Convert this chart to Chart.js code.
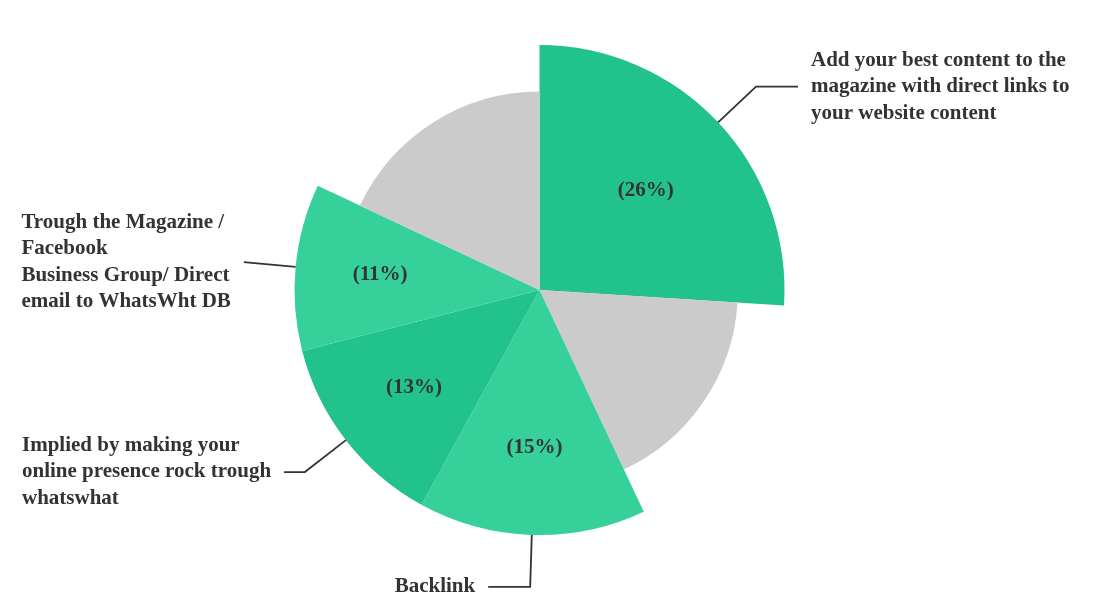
<!DOCTYPE html>
<html>
<head>
<meta charset="utf-8">
<title>Traffic sources</title>
<script src="https://cdn.jsdelivr.net/npm/chart.js@4.4.1/dist/chart.umd.min.js"></script>
<style>
  html, body { margin: 0; padding: 0; background: #fff; }
  #wrap { width: 1102px; height: 614px; }
</style>
</head>
<body>
<div id="wrap"><canvas id="pieChart" width="1102" height="614"></canvas></div>
<script>
// slices clockwise from 12 o'clock; unlabelled ones are the grey "rest" slices
const categories = [
  "Add your best content to the magazine with direct links to your website content",
  "Other",
  "Backlink",
  "Implied by making your online presence rock trough whatswhat",
  "Trough the Magazine / Facebook Business Group/ Direct email to WhatsWht DB",
  "Other"
];
const shares = [26, 17, 15, 13, 11, 18];
const labelLines = [
  ["Add your best content to the", "magazine with direct links to", "your website content"],
  [],
  ["Backlink"],
  ["Implied by making your", "online presence rock trough", "whatswhat"],
  ["Trough the Magazine /", "Facebook", "Business Group/ Direct", "email to WhatsWht DB"],
  []
];

const GREEN_DARK = "#22c28d";
const GREEN_LIGHT = "#36d19b";
const GREY = "#cbcbcb";
const sliceColors = [GREEN_DARK, GREY, GREEN_LIGHT, GREEN_DARK, GREEN_LIGHT, GREY];

const MUTED_SCALE = 0.81;  // grey slices are drawn shorter
const LEAD1 = 52;          // leader line, radial part
const LEAD2 = 42;          // leader line, horizontal part
const GAP = 13;            // between leader end and text
const EDGE = 22;           // keep text off the canvas edge
const LINE_H = 26.5;
const FONT = "bold 21px 'Liberation Serif', 'Times New Roman', serif";

const mutedSlices = {
  id: "mutedSlices",
  afterDatasetsUpdate(chart) {
    const meta = chart.getDatasetMeta(0);
    const full = meta.controller.outerRadius;
    meta.data.forEach((arc, i) => {
      arc.outerRadius = labelLines[i].length ? full : full * MUTED_SCALE;
    });
  }
};

const calloutLabels = {
  id: "calloutLabels",
  afterDatasetsDraw(chart) {
    const { ctx, width } = chart;
    const meta = chart.getDatasetMeta(0);
    ctx.save();
    ctx.font = FONT;
    ctx.fillStyle = "#333";
    ctx.strokeStyle = "#333";
    ctx.lineWidth = 1.8;

    meta.data.forEach((arc, i) => {
      const lines = labelLines[i];
      if (!lines.length) return;
      const { x, y, startAngle, endAngle, outerRadius: r } =
        arc.getProps(["x", "y", "startAngle", "endAngle", "outerRadius"], true);
      const sweep = endAngle - startAngle;
      const mid = startAngle + sweep / 2;
      const cos = Math.cos(mid), sin = Math.sin(mid);

      // percentage at the centroid of the sector
      const rc = (4 * r * Math.sin(sweep / 2)) / (3 * sweep);
      ctx.textAlign = "center";
      ctx.textBaseline = "middle";
      ctx.fillText("(" + shares[i] + "%)", x + rc * cos, y + rc * sin);

      // leader line
      const x0 = x + r * cos, y0 = y + r * sin;
      const x1 = x + (r + LEAD1) * cos, y1 = y + (r + LEAD1) * sin;
      const side = cos >= 0 ? 1 : -1;
      const blockW = Math.max(...lines.map(t => ctx.measureText(t).width));
      const room = side > 0
        ? width - EDGE - blockW - GAP - x1
        : x1 - GAP - blockW - EDGE;
      const len2 = Math.max(0, Math.min(LEAD2, room));
      const x2 = x1 + side * len2;

      ctx.beginPath();
      ctx.moveTo(x0, y0);
      ctx.lineTo(x1, y1);
      ctx.lineTo(x2, y1);
      ctx.stroke();

      const left = side > 0 ? x2 + GAP : x2 - GAP - blockW;
      const top = y1 - (lines.length - 1) * LINE_H / 2;
      ctx.textAlign = "left";
      lines.forEach((t, k) => ctx.fillText(t, left, top + k * LINE_H));
    });
    ctx.restore();
  }
};

new Chart(document.getElementById("pieChart").getContext("2d"), {
  type: "pie",
  data: {
    labels: categories,
    datasets: [{
      data: shares,
      backgroundColor: sliceColors,
      borderWidth: 0,
      hoverOffset: 0,
      offset: 0
    }]
  },
  options: {
    responsive: false,
    animation: false,
    events: [],
    layout: { padding: { top: 45, bottom: 79, left: 200, right: 223 } },
    plugins: {
      legend: { display: false },
      tooltip: { enabled: false }
    }
  },
  plugins: [mutedSlices, calloutLabels]
});
</script>
</body>
</html>
